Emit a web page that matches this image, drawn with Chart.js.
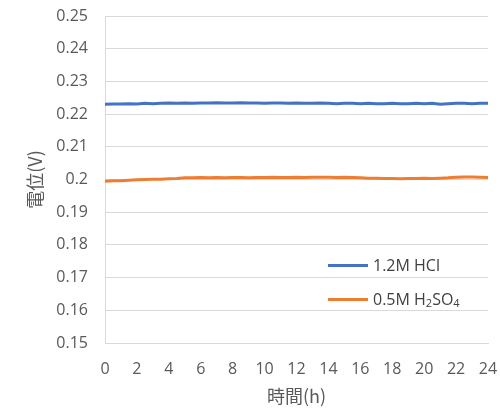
<!DOCTYPE html>
<html>
<head>
<meta charset="utf-8">
<script src="https://cdn.jsdelivr.net/npm/chart.js@4"></script>
<style>
    body { margin: 0; background: #fff; }
    #wrap { position: relative; width: 500px; height: 412px; }
    .legend { position: absolute; left: 328px; font-family: "Open Sans", "Noto Sans", sans-serif; font-size: 16px; color: #404040; display: flex; align-items: center; line-height: 20px; }
    .legend .swatch { width: 40px; height: 3px; margin-right: 5px; }
    .legend sub { font-size: 11px; position: relative; top: 4px; vertical-align: baseline; line-height: 0; }
</style>
</head>
<body>
<div id="wrap">
    <canvas id="potentialChart"></canvas>
    <div class="legend" style="top: 255px;"><span class="swatch" style="background:#4472C4"></span>1.2M HCl</div>
    <div class="legend" style="top: 289px;"><span class="swatch" style="background:#ED7D31"></span>0.5M H<sub>2</sub>SO<sub>4</sub></div>
</div>
<script>
// 時間 (h), 0.5h刻み
const hours = [0, 0.5, 1, 1.5, 2, 2.5, 3, 3.5, 4, 4.5, 5, 5.5, 6, 6.5, 7, 7.5, 8, 8.5, 9, 9.5,
    10, 10.5, 11, 11.5, 12, 12.5, 13, 13.5, 14, 14.5, 15, 15.5, 16, 16.5, 17, 17.5, 18, 18.5, 19, 19.5,
    20, 20.5, 21, 21.5, 22, 22.5, 23, 23.5, 24];

// 1.2M HCl の電位 (V)
const hclValues = [0.2230, 0.2231, 0.2231, 0.2232, 0.2231, 0.2233, 0.2232, 0.2233, 0.2234, 0.2233,
    0.2234, 0.2233, 0.2234, 0.2234, 0.2235, 0.2234, 0.2234, 0.2235, 0.2234, 0.2234,
    0.2233, 0.2234, 0.2234, 0.2233, 0.2234, 0.2233, 0.2233, 0.2234, 0.2233, 0.2232,
    0.2233, 0.2233, 0.2232, 0.2233, 0.2232, 0.2232, 0.2233, 0.2232, 0.2232, 0.2233,
    0.2232, 0.2233, 0.2230, 0.2232, 0.2233, 0.2233, 0.2232, 0.2233, 0.2233];

// 0.5M H2SO4 の電位 (V)
const h2so4Values = [0.1995, 0.1996, 0.1996, 0.1998, 0.1999, 0.2000, 0.2001, 0.2001, 0.2002, 0.2003,
    0.2005, 0.2005, 0.2006, 0.2005, 0.2006, 0.2005, 0.2006, 0.2006, 0.2005, 0.2006,
    0.2006, 0.2007, 0.2006, 0.2006, 0.2007, 0.2006, 0.2007, 0.2007, 0.2007, 0.2006,
    0.2007, 0.2006, 0.2005, 0.2004, 0.2004, 0.2003, 0.2003, 0.2002, 0.2003, 0.2003,
    0.2004, 0.2003, 0.2004, 0.2005, 0.2007, 0.2008, 0.2008, 0.2007, 0.2006];

const xTicks = [0, 2, 4, 6, 8, 10, 12, 14, 16, 18, 20, 22, 24];

const toPoints = (values) => values.map((v, i) => ({ x: hours[i], y: v }));

const tickColor = '#595959';
const gridColor = '#d9d9d9';
const numFont = { family: '"Open Sans", "Noto Sans", sans-serif', size: 16 };
const titleFont = { family: '"Noto Sans CJK JP", sans-serif', size: 18 };

new Chart(document.getElementById('potentialChart'), {
    type: 'line',
    data: {
        datasets: [
            {
                label: '1.2M HCl',
                data: toPoints(hclValues),
                borderColor: '#4472C4',
                borderWidth: 3,
                pointRadius: 0,
                tension: 0
            },
            {
                label: '0.5M H2SO4',
                data: toPoints(h2so4Values),
                borderColor: '#ED7D31',
                borderWidth: 3,
                pointRadius: 0,
                tension: 0
            }
        ]
    },
    options: {
        responsive: true,
        maintainAspectRatio: false,
        animation: false,
        layout: { padding: { top: 16, right: 12, left: 20, bottom: 3 } },
        plugins: {
            legend: { display: false },
            tooltip: { enabled: false }
        },
        scales: {
            x: {
                type: 'linear',
                min: 0,
                max: 24,
                afterBuildTicks: (axis) => { axis.ticks = xTicks.map(v => ({ value: v })); },
                // 軸の高さを固定する
                afterFit: (axis) => { axis.height = 66; axis.paddingLeft = 0; axis.paddingRight = 0; },
                grid: { display: false, drawTicks: false },
                border: { display: true, color: gridColor },
                ticks: { color: tickColor, font: numFont, padding: 17, maxRotation: 0 },
                title: { display: true, text: '時間(h)', color: tickColor, font: titleFont, padding: { top: 4, bottom: 2 } }
            },
            y: {
                min: 0.15,
                max: 0.25,
                afterFit: (axis) => { axis.width = 85; axis.paddingTop = 0; axis.paddingBottom = 0; },
                ticks: {
                    stepSize: 0.01,
                    color: tickColor,
                    font: numFont,
                    padding: 17,
                    callback: (v) => String(parseFloat(v.toFixed(2)))
                },
                grid: { color: gridColor, drawTicks: false },
                border: { display: true, color: gridColor },
                title: { display: true, text: '電位(V)', color: tickColor, font: titleFont, padding: { top: 4, bottom: 0 } }
            }
        }
    }
});
</script>
</body>
</html>
